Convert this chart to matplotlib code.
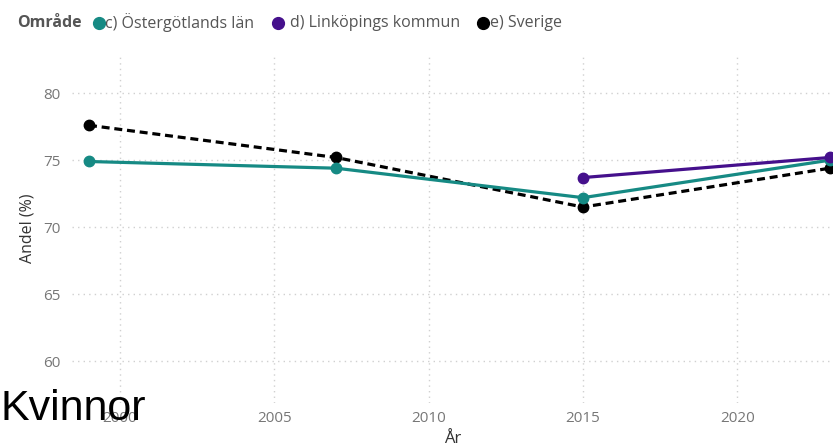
import matplotlib
matplotlib.use("Agg")
import matplotlib.pyplot as plt
from matplotlib.lines import Line2D

plt.rcParams['font.family'] = ['Open Sans', 'DejaVu Sans']

years_ost = [1999, 2007, 2015, 2023]
ost = [74.9, 74.4, 72.2, 75.0]
years_lkp = [2015, 2023]
lkp = [73.7, 75.2]
years_sve = [1999, 2007, 2015, 2023]
sve = [77.6, 75.2, 71.5, 74.4]

labels = ["c) Östergötlands län", "d) Linköpings kommun", "e) Sverige"]
colors = ["#168a84", "#45108c", "#000000"]
xticks = [2000, 2005, 2010, 2015, 2020]
yticks = [60, 65, 70, 75, 80]

W, H = 833, 448
fig = plt.figure(figsize=(W / 100, H / 100), dpi=100)
ax = fig.add_axes([72 / W, 45 / H, 1 - 72 / W, 350 / H])

ax.plot(years_ost, ost, color=colors[0], lw=2.3, marker='o', ms=7.5, clip_on=False, zorder=3)
ax.plot(years_lkp, lkp, color=colors[1], lw=2.3, marker='o', ms=7.5, clip_on=False, zorder=4)
ax.plot(years_sve, sve, color=colors[2], lw=2.3, ls=(0, (2.5, 1.5)), marker='o', ms=7.5, clip_on=False, zorder=2)

ax.set_xlim(1998.45, 2023.1)
ax.set_ylim(56.87, 83)
ax.set_xticks(xticks)
ax.set_yticks(yticks)
ax.grid(True, color='#d0d0d0', ls=(0, (1, 3)), lw=1)
for s in ax.spines.values():
    s.set_visible(False)
ax.tick_params(axis='both', length=0, labelsize=11, labelcolor='#777777')
ax.tick_params(axis='x', pad=6)
ax.tick_params(axis='y', pad=8)
ax.set_ylabel("Andel (%)", fontsize=11.5, color='#333333', labelpad=6)
ax.set_xlabel("År", fontsize=12, color='#333333', labelpad=3)

ly = 1 - 23 / H
fig.text(17 / W, ly, "Område", fontsize=11.5, fontweight='bold', color='#555555', va='center')
marker_x = [99, 278, 483]
text_x = [105, 290, 490]
for mx, tx, c, lab in zip(marker_x, text_x, colors, labels):
    fig.add_artist(Line2D([mx / W], [ly], ls='none', marker='o', ms=8.5, color=c,
                          transform=fig.transFigure))
    fig.text(tx / W, ly, lab, fontsize=11.5, color='#555555', va='center')

fig.text(0.0, 1 - 420 / H, "Kvinnor", fontsize=31, color='black', va='baseline',
         family=['Liberation Sans', 'DejaVu Sans'])

fig.savefig("out.png", dpi=100)
